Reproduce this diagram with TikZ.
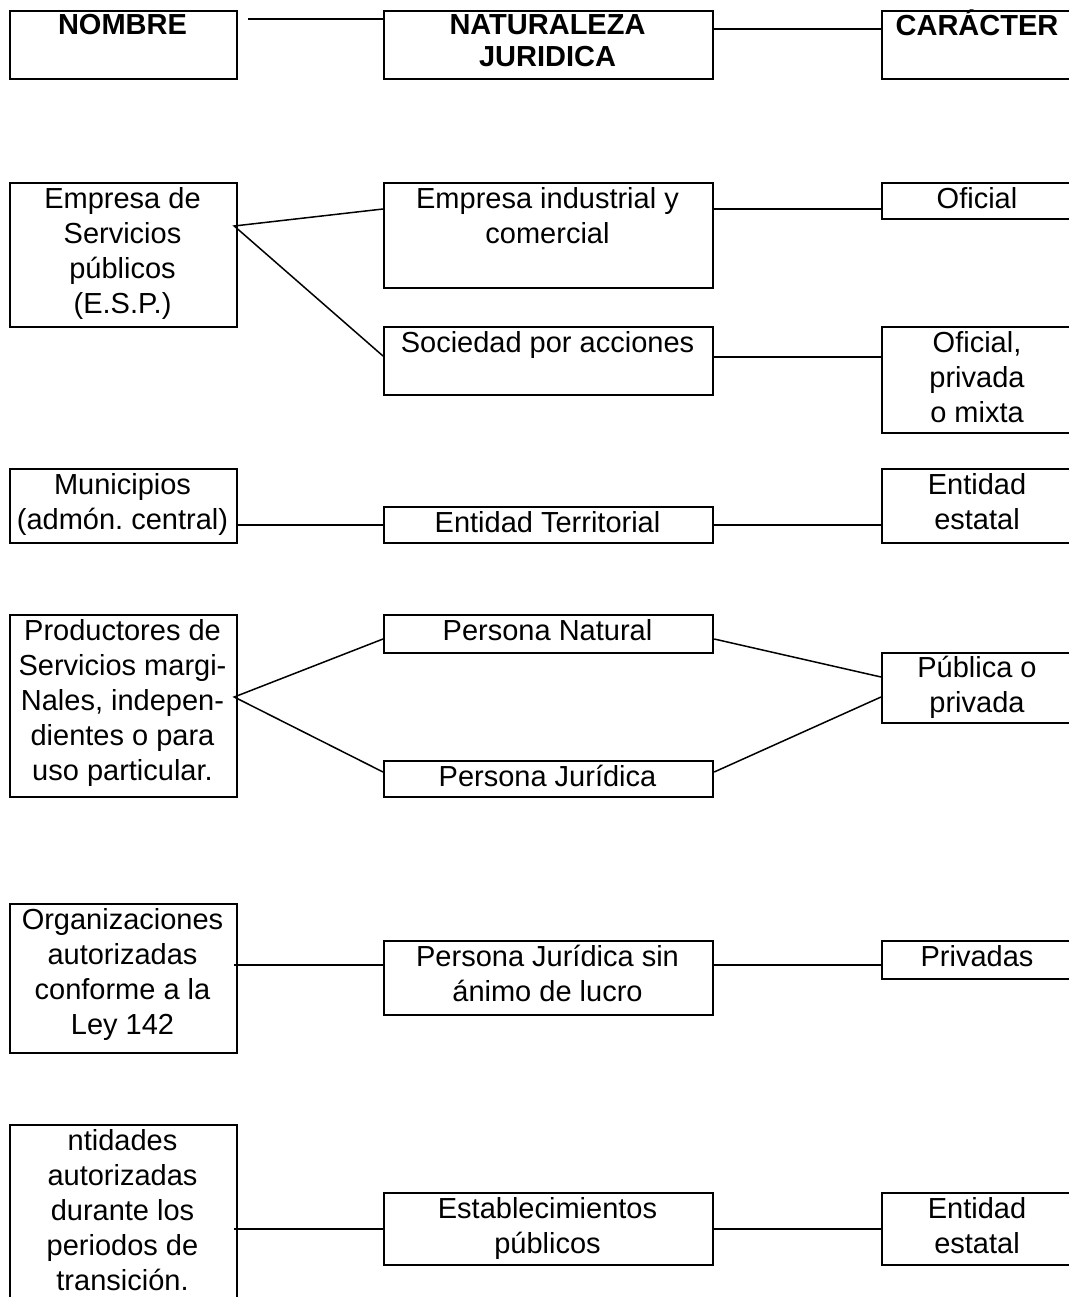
\documentclass[tikz,border=0pt]{standalone}
\usepackage{fontspec}
\setmainfont{Liberation Sans}
\usetikzlibrary{calc}
\frenchspacing
\begin{document}
\begin{tikzpicture}[x=1pt,y=-1pt,
 box/.style={draw, line width=2.2pt, inner sep=0pt, anchor=north west},
 w1/.style={minimum width=227pt},
 w2/.style={minimum width=329pt},
 w3/.style={minimum width=192pt},
 txt/.style={font=\fontsize{29}{35}\selectfont, align=center, anchor=north, inner sep=0pt},
 head/.style={font=\bfseries\fontsize{29}{32}\selectfont, align=center, anchor=north, inner sep=0pt},
 conn/.style={line width=2.2pt},
 diag/.style={line width=1.5pt}]
\useasboundingbox (0,0) rectangle (1068,1297);
% header row
\node[box,w1,minimum height=68pt] (nom) at (9,10) {};
\node[box,w2,minimum height=68pt] (nat) at (383,10) {};
\node[box,w3,minimum height=68pt] (car) at (881,10) {};
\node[head] (tnom) at (122.5,14) {NOMBRE};
\node[head] (tnat) at (547.5,14) {NATURALEZA\\JURIDICA};
\node[head] (tcar) at (977,10) {CARÁCTER};
\draw[conn] ([xshift=10pt,yshift=-9pt]nom.north east) -- ([yshift=-9pt]nat.north west);
\draw[conn] ([yshift=-19pt]nat.north east) -- ([yshift=-19pt]car.north west);
% row 2
\node[box,w1,minimum height=144pt] (esp) at (9,182) {};
\node[box,w2,minimum height=105pt] (ei) at (383,182) {};
\node[box,w3,minimum height=36pt] (ofi) at (881,182) {};
\node[box,w2,minimum height=68pt] (soc) at (383,326) {};
\node[box,w3,minimum height=106pt] (opm) at (881,326) {};
\node[txt] (tesp) at (122.5,187) {Empresa de\\Servicios\\públicos\\(E.S.P.)};
\node[txt] (tei) at (547.5,187) {Empresa industrial y\\comercial};
\node[txt] (tofi) at (977,187) {Oficial};
\node[txt] (tsoc) at (547.5,331) {Sociedad por acciones};
\node[txt] (topm) at (977,331) {Oficial,\\privada\\o mixta};
\coordinate (j1) at ([xshift=-4pt,yshift=-44pt]esp.north east);
\draw[diag] ([yshift=-27pt]ei.north west) -- (j1) -- ([yshift=-30pt]soc.north west);
\draw[conn] ([yshift=-27pt]ei.north east) -- ([yshift=-27pt]ofi.north west);
\draw[conn] ([yshift=-31pt]soc.north east) -- ([yshift=-31pt]opm.north west);
% row 3
\node[box,w1,minimum height=74pt] (mun) at (9,468) {};
\node[box,w2,minimum height=36pt] (et) at (383,506) {};
\node[box,w3,minimum height=74pt] (ee1) at (881,468) {};
\node[txt] (tmun) at (122.5,473) {Municipios\\(admón. central)};
\node[txt] (tet) at (547.5,511) {Entidad Territorial};
\node[txt] (tee1) at (977,473) {Entidad\\estatal};
\draw[conn] (et.west -| mun.east) -- (et.west);
\draw[conn] (et.east) -- (et.east -| ee1.west);
% row 4
\node[box,w1,minimum height=182pt] (prod) at (9,614) {};
\node[box,w2,minimum height=38pt] (pn) at (383,614) {};
\node[box,w2,minimum height=36pt] (pj) at (383,760) {};
\node[box,w3,minimum height=70pt] (pop) at (881,652) {};
\node[txt] (tprod) at (122.5,619) {Productores de\\Servicios margi-\\Nales, indepen-\\dientes o para\\uso particular.};
\node[txt] (tpn) at (547.5,619) {Persona Natural};
\node[txt] (tpj) at (547.5,765) {Persona Jurídica};
\node[txt] (tpop) at (977,656) {Pública o\\privada};
\coordinate (j2) at ([xshift=-4pt,yshift=-83pt]prod.north east);
\draw[diag] ([yshift=-25pt]pn.north west) -- (j2) -- ([yshift=-12pt]pj.north west);
\draw[diag] ([yshift=-25pt]pn.north east) -- ([yshift=-25pt]pop.north west);
\draw[diag] ([yshift=-12pt]pj.north east) -- ([yshift=-45pt]pop.north west);
% row 5
\node[box,w1,minimum height=149pt] (org) at (9,903) {};
\node[box,w2,minimum height=74pt] (pjs) at (383,940) {};
\node[box,w3,minimum height=38pt] (priv) at (881,940) {};
\node[txt] (torg) at (122.5,908) {Organizaciones\\autorizadas\\conforme a la\\Ley 142};
\node[txt] (tpjs) at (547.5,945) {Persona Jurídica sin\\ánimo de lucro};
\node[txt] (tpriv) at (977,945) {Privadas};
\draw[conn] ([xshift=-4pt]org.east |- pjs.north west) ++(0,25) -- ([yshift=-25pt]pjs.north west);
\draw[conn] ([yshift=-25pt]pjs.north east) -- ([yshift=-25pt]priv.north west);
% row 6
\node[box,w1,minimum height=200pt] (ent) at (9,1124) {};
\node[box,w2,minimum height=72pt] (est) at (383,1192) {};
\node[box,w3,minimum height=72pt] (ee2) at (881,1192) {};
\node[txt] (tent) at (122.5,1129) {ntidades\\autorizadas\\durante los\\periodos de\\transición.};
\node[txt] (test) at (547.5,1197) {Establecimientos\\públicos};
\node[txt] (tee2) at (977,1197) {Entidad\\estatal};
\draw[conn] ([xshift=-4pt]est.west -| ent.east) -- (est.west);
\draw[conn] (est.east) -- (est.east -| ee2.west);
\end{tikzpicture}
\end{document}
